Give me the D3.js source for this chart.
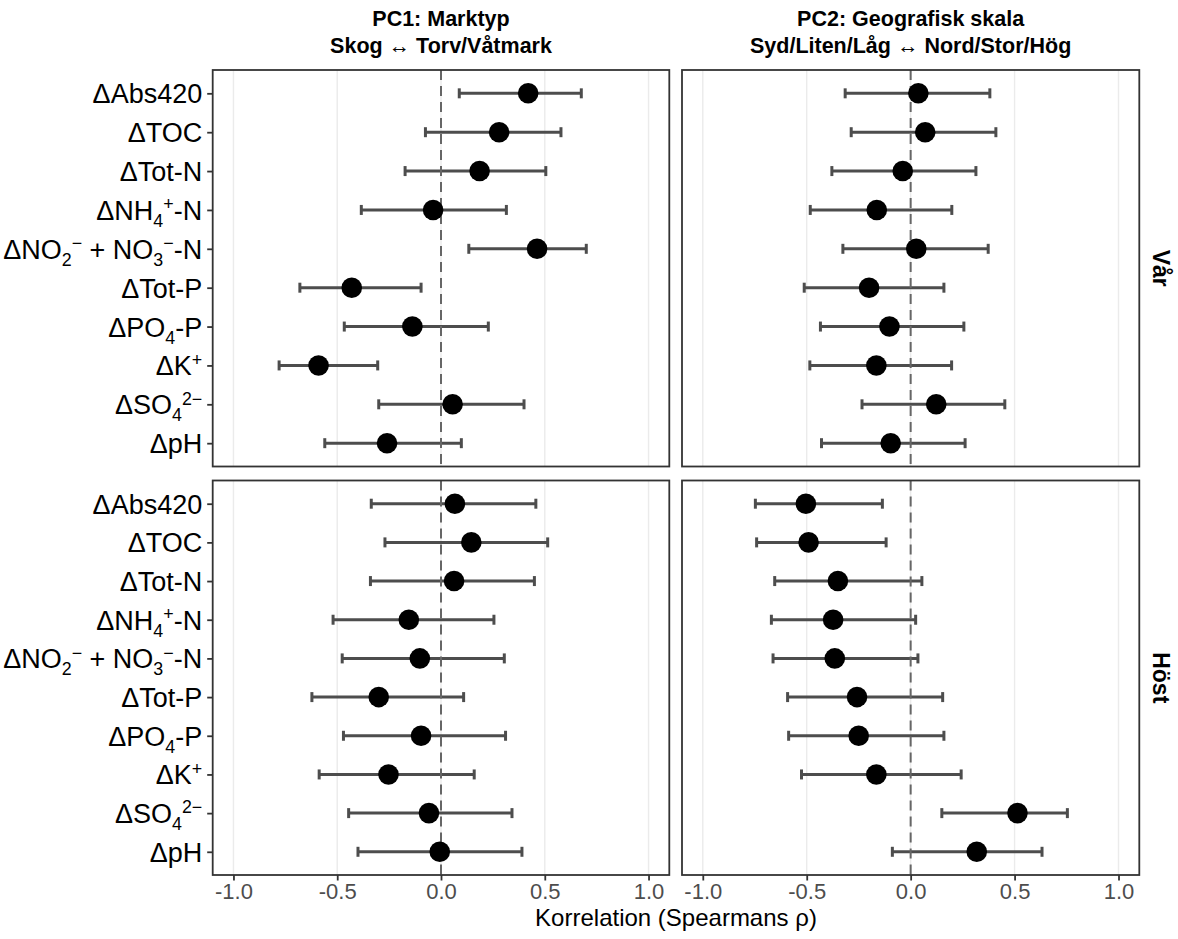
<!DOCTYPE html>
<html>
<head>
<meta charset="utf-8">
<script src="https://cdn.jsdelivr.net/npm/d3@7"></script>
<style>
  body { margin: 0; background: #fff; }
  text { font-family: "Liberation Sans", Arial, sans-serif; }
</style>
</head>
<body>
<script>
// variables, top to bottom; labels as [text, kind] pieces (n = normal, sub, sup)
const variables = ["Abs420", "TOC", "TotN", "NH4", "NOx", "TotP", "PO4", "K", "SO4", "pH"];
const varLabels = [
  [["ΔAbs420", "n"]],
  [["ΔTOC", "n"]],
  [["ΔTot-N", "n"]],
  [["ΔNH", "n"], ["4", "sub"], ["+", "sup"], ["-N", "n"]],
  [["ΔNO", "n"], ["2", "sub"], ["−", "sup"], [" + NO", "n"], ["3", "sub"], ["−", "sup"], ["-N", "n"]],
  [["ΔTot-P", "n"]],
  [["ΔPO", "n"], ["4", "sub"], ["-P", "n"]],
  [["ΔK", "n"], ["+", "sup"]],
  [["ΔSO", "n"], ["4", "sub"], ["2−", "sup"]],
  [["ΔpH", "n"]]
];

const columnTitles = [
  ["PC1: Marktyp", "Skog ↔ Torv/Våtmark"],
  ["PC2: Geografisk skala", "Syd/Liten/Låg ↔ Nord/Stor/Hög"]
];
const seasons = ["Vår", "Höst"];
const xTicks = [-1.0, -0.5, 0.0, 0.5, 1.0];

// Spearman rho with 95% interval
const rhoPC1Var = [0.42, 0.28, 0.186, -0.038, 0.463, -0.43, -0.138, -0.59, 0.056, -0.26];
const loPC1Var  = [0.088, -0.075, -0.173, -0.384, 0.134, -0.68, -0.466, -0.78, -0.30, -0.56];
const hiPC1Var  = [0.676, 0.578, 0.505, 0.315, 0.70, -0.096, 0.228, -0.305, 0.40, 0.098];

const rhoPC2Var = [0.037, 0.07, -0.038, -0.163, 0.027, -0.20, -0.102, -0.165, 0.123, -0.096];
const loPC2Var  = [-0.315, -0.286, -0.379, -0.483, -0.326, -0.512, -0.434, -0.485, -0.234, -0.429];
const hiPC2Var  = [0.381, 0.41, 0.314, 0.198, 0.373, 0.16, 0.256, 0.197, 0.453, 0.262];

const rhoPC1Host = [0.067, 0.146, 0.063, -0.155, -0.102, -0.30, -0.096, -0.253, -0.058, -0.006];
const loPC1Host  = [-0.336, -0.27, -0.34, -0.52, -0.476, -0.622, -0.47, -0.587, -0.445, -0.40];
const hiPC1Host  = [0.457, 0.514, 0.45, 0.255, 0.305, 0.109, 0.311, 0.16, 0.342, 0.39];

const rhoPC2Host = [-0.504, -0.491, -0.35, -0.373, -0.365, -0.258, -0.25, -0.165, 0.514, 0.318];
const loPC2Host  = [-0.747, -0.741, -0.654, -0.67, -0.662, -0.592, -0.587, -0.525, 0.15, -0.088];
const hiPC2Host  = [-0.136, -0.118, 0.054, 0.024, 0.035, 0.154, 0.16, 0.243, 0.754, 0.632];

const panels = [
  { col: 0, row: 0, rho: rhoPC1Var, lo: loPC1Var, hi: hiPC1Var },
  { col: 1, row: 0, rho: rhoPC2Var, lo: loPC2Var, hi: hiPC2Var },
  { col: 0, row: 1, rho: rhoPC1Host, lo: loPC1Host, hi: hiPC1Host },
  { col: 1, row: 1, rho: rhoPC2Host, lo: loPC2Host, hi: hiPC2Host }
];

const width = 1178, height = 939;
const colRange = [[212.7, 669.3], [682, 1139.3]];
const rowRange = [[70, 466.5], [480.5, 875]];
const labelSize = 27;

const svg = d3.select("body").append("svg")
  .attr("width", width)
  .attr("height", height);

const xScales = colRange.map(r => d3.scaleLinear().domain([-1.1, 1.1]).range(r));
const yScales = rowRange.map(r => d3.scalePoint().domain(variables).range(r).padding(0.6));

// writes label pieces as tspans, baseline centred on the tick
function addPieces(sel, pieces, size) {
  let shift = -0.35 * size;
  pieces.forEach(([t, kind]) => {
    let target = 0, fs = size;
    if (kind === "sub") { target = size * 0.26; fs = size * 0.66; }
    if (kind === "sup") { target = -size * 0.36; fs = size * 0.66; }
    sel.append("tspan")
      .attr("dy", target - shift)
      .attr("font-size", fs)
      .text(t);
    shift = target;
  });
}

panels.forEach(p => {
  const x = xScales[p.col], y = yScales[p.row];
  const [x0, x1] = colRange[p.col], [y0, y1] = rowRange[p.row];
  const g = svg.append("g");

  // grid
  g.selectAll(".grid").data(xTicks).join("line")
    .attr("x1", d => x(d)).attr("x2", d => x(d))
    .attr("y1", y0).attr("y2", y1)
    .attr("stroke", "#ebebeb").attr("stroke-width", 1.4);

  // error bars
  const bars = g.selectAll(".bar").data(variables).join("g");
  bars.append("line")
    .attr("x1", (d, i) => x(p.lo[i])).attr("x2", (d, i) => x(p.hi[i]))
    .attr("y1", d => y(d)).attr("y2", d => y(d));
  bars.append("line")
    .attr("x1", (d, i) => x(p.lo[i])).attr("x2", (d, i) => x(p.lo[i]))
    .attr("y1", d => y(d) - 5).attr("y2", d => y(d) + 5);
  bars.append("line")
    .attr("x1", (d, i) => x(p.hi[i])).attr("x2", (d, i) => x(p.hi[i]))
    .attr("y1", d => y(d) - 5).attr("y2", d => y(d) + 5);
  bars.selectAll("line").attr("stroke", "#4d4d4d").attr("stroke-width", 3);

  // zero line
  g.append("line")
    .attr("x1", x(0)).attr("x2", x(0))
    .attr("y1", y0).attr("y2", y1)
    .attr("stroke", "#666666").attr("stroke-width", 2)
    .attr("stroke-dasharray", "10,6");

  // points
  g.selectAll(".pt").data(variables).join("circle")
    .attr("cx", (d, i) => x(p.rho[i]))
    .attr("cy", d => y(d))
    .attr("r", 10.3)
    .attr("fill", "#000");

  // border
  g.append("rect")
    .attr("x", x0).attr("y", y0)
    .attr("width", x1 - x0).attr("height", y1 - y0)
    .attr("fill", "none").attr("stroke", "#333333").attr("stroke-width", 1.8);

  // y axis on the left column
  if (p.col === 0) {
    const ax = svg.append("g")
      .attr("transform", `translate(${x0},0)`)
      .call(d3.axisLeft(y).tickSize(5.5).tickPadding(5));
    ax.select(".domain").remove();
    ax.selectAll(".tick line").attr("stroke", "#333333").attr("stroke-width", 1.8);
    ax.selectAll(".tick text").each(function(d) {
      const t = d3.select(this);
      t.text(null)
        .attr("fill", "#000")
        .attr("font-size", labelSize)
        .attr("font-family", '"Liberation Sans", Arial, sans-serif')
        .attr("dy", null);
      addPieces(t, varLabels[variables.indexOf(d)], labelSize);
    });
  }

  // x axis on the bottom row
  if (p.row === 1) {
    const ax = svg.append("g")
      .attr("transform", `translate(0,${y1})`)
      .call(d3.axisBottom(x).tickValues(xTicks).tickSize(5.5).tickPadding(3)
        .tickFormat(d => d.toFixed(1)));
    ax.select(".domain").remove();
    ax.selectAll(".tick line").attr("stroke", "#333333").attr("stroke-width", 1.8);
    ax.selectAll(".tick text")
      .attr("fill", "#4d4d4d")
      .attr("font-size", 22)
      .attr("font-family", '"Liberation Sans", Arial, sans-serif');
  }
});

// column strip titles
columnTitles.forEach((lines, c) => {
  const cx = d3.mean(colRange[c]);
  lines.forEach((line, k) => {
    svg.append("text")
      .attr("x", cx).attr("y", 26 + k * 27)
      .attr("text-anchor", "middle")
      .attr("font-size", 21.5)
      .attr("font-weight", "bold")
      .text(line);
  });
});

// row strip labels
seasons.forEach((s, r) => {
  const cy = d3.mean(rowRange[r]);
  svg.append("text")
    .attr("transform", `translate(1153,${cy}) rotate(90)`)
    .attr("text-anchor", "middle")
    .attr("font-size", 23)
    .attr("font-weight", "bold")
    .text(s);
});

// x axis title
svg.append("text")
  .attr("x", (colRange[0][0] + colRange[1][1]) / 2)
  .attr("y", 926)
  .attr("text-anchor", "middle")
  .attr("font-size", 24)
  .text("Korrelation (Spearmans ρ)");
</script>
</body>
</html>
